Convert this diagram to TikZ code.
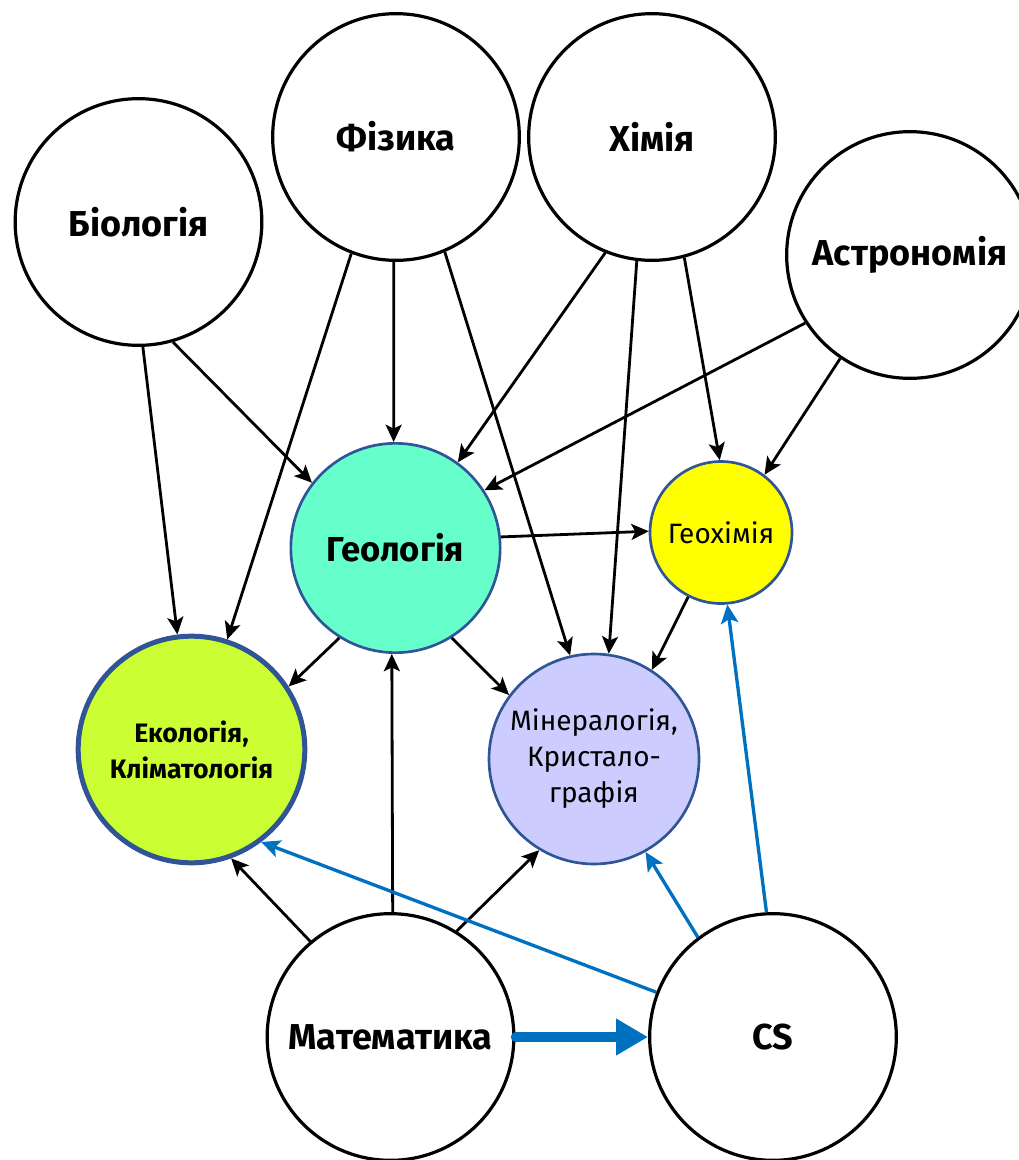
\documentclass[tikz,border=0pt]{standalone}
\usepackage{fontspec}
\setmainfont{Fira Sans}
\usetikzlibrary{arrows.meta}

\definecolor{rim}{HTML}{2F5597}
\definecolor{csblue}{HTML}{0070C0}
\definecolor{geofill}{HTML}{66FFCC}
\definecolor{gchfill}{HTML}{FFFF00}
\definecolor{ecofill}{HTML}{CCFF33}
\definecolor{minfill}{HTML}{CCCCFF}

\begin{document}
\begin{tikzpicture}[x=0.75pt, y=-0.75pt,
    main/.style = {draw, circle, line width=2.4pt, inner sep=0pt, minimum size=185pt,
                   font=\bfseries\fontsize{27}{32}\selectfont},
    sub/.style = {draw=rim, circle, line width=2pt, inner sep=0pt, align=center},
    arr/.style = {-{Stealth[length=13pt,width=12pt,inset=3pt]}, line width=2.1pt},
    csarr/.style = {-{Stealth[length=14pt,width=13pt,inset=3pt]}, line width=2.5pt, draw=csblue, fill=csblue}]
    \clip (0,0) rectangle (1019,1160);

    % Рівень 1
    \node[main] (bio) at (138.5,222) {Біологія};
    \node[main] (fiz) at (396,137) {Фізика};
    \node[main] (chem) at (652,137) {Хімія};
    \node[main] (astro) at (910,255) {Астрономія};

    % Рівень 2
    \node[sub, fill=geofill, minimum size=157pt, font=\bfseries\fontsize{26}{30}\selectfont] (geo) at (395.5,548) {Геологія};
    \node[sub, fill=gchfill, minimum size=106.5pt, font=\fontsize{21}{25}\selectfont] (gch) at (721,532.5) {Геохімія};

    % Рівень 3
    \node[sub, fill=ecofill, line width=3.75pt, minimum size=170pt, font=\bfseries\fontsize{20}{27}\selectfont] (eco) at (191.5,749.5) {Екологія,\\Кліматологія};
    \node[sub, fill=minfill, minimum size=157.5pt, font=\fontsize{21}{27}\selectfont] (min) at (594,759) {Мінералогія,\\Кристало-\\графія};

    % Рівень 4
    \node[main] (mat) at (390.5,1037) {Математика};
    \node[main] (cs) at (773,1037) {CS};

    % Зв'язки
    \draw[arr] (bio.-88) -- (eco.97);
    \draw[arr] (bio.-74) -- (geo.142);
    \draw[arr] (fiz.-111) -- (eco.72);
    \draw[arr] (fiz.-91) -- (geo.91);
    \draw[arr] (fiz.-67) -- (min.103);
    \draw[arr] (chem.-112) -- (geo.54);
    \draw[arr] (chem.-97) -- (min.82);
    \draw[arr] (chem.-75) -- (gch.91);
    \draw[arr] (astro.-147) -- (geo.33);
    \draw[arr] (astro.-124) -- (gch.53);
    \draw[arr] (geo.6) -- (gch.179);
    \draw[arr] (geo.-122) -- (eco.33);
    \draw[arr] (geo.-58) -- (min.143);
    \draw[arr] (gch.-117) -- (min.57);
    \draw[arr] (mat.89) -- (geo.-92);
    \draw[arr] (mat.130) -- (eco.-70);
    \draw[arr] (mat.58) -- (min.-121);

    % CS
    \draw[csblue, line width=7pt, line cap=round, -{Stealth[length=24pt,width=26pt,inset=0pt]}] (mat.0) -- (cs.180);
    \draw[csarr] (cs.159) -- (eco.-53);
    \draw[csarr] (cs.127) -- (min.-61);
    \draw[csarr] (cs.93) -- (gch.-85);
\end{tikzpicture}
\end{document}
